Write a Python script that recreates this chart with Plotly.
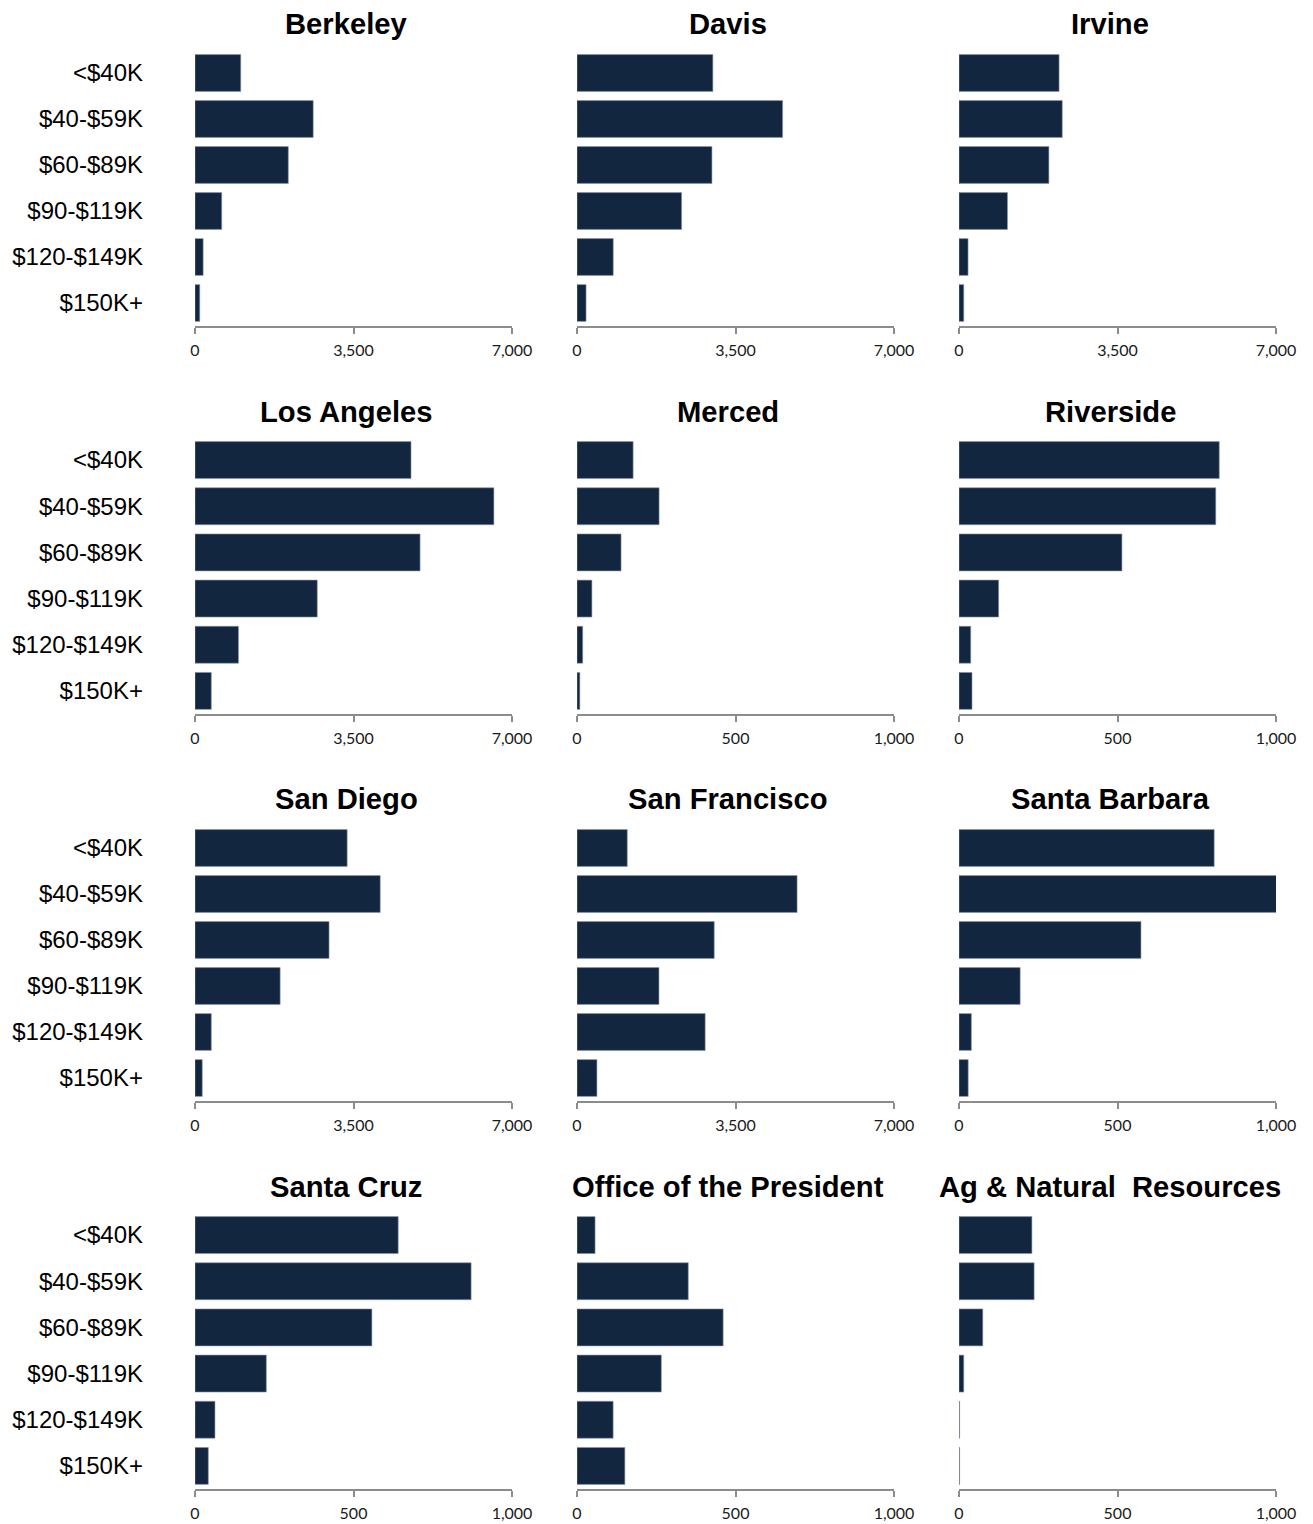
import plotly.graph_objects as go

categories = ["<$40K", "$40-$59K", "$60-$89K", "$90-$119K", "$120-$149K", "$150K+"]

campuses = ["Berkeley", "Davis", "Irvine",
            "Los Angeles", "Merced", "Riverside",
            "San Diego", "San Francisco", "Santa Barbara",
            "Santa Cruz", "Office of the President", "Ag & Natural\u00a0 Resources"]

berkeley = [1010, 2610, 2060, 590, 180, 105]
davis = [3000, 4540, 2980, 2310, 800, 200]
irvine = [2210, 2280, 1985, 1070, 200, 105]
los_angeles = [4770, 6600, 4970, 2700, 960, 360]
merced = [177, 259, 139, 47, 18, 9]
riverside = [821, 810, 514, 125, 37, 41]
san_diego = [3360, 4090, 2960, 1880, 360, 160]
san_francisco = [1110, 4860, 3030, 1810, 2830, 440]
santa_barbara = [805, 1005, 574, 193, 39, 29]
santa_cruz = [641, 871, 558, 225, 63, 42]
office_president = [57, 351, 461, 266, 114, 151]
ag_natural = [230, 237, 75, 15, 2, 2]

series = [berkeley, davis, irvine, los_angeles, merced, riverside,
          san_diego, san_francisco, santa_barbara, santa_cruz, office_president, ag_natural]

axis_max = [7000, 7000, 7000,
            7000, 1000, 1000,
            7000, 7000, 1000,
            1000, 1000, 1000]

W, H = 1313, 1524
col_px = [(195, 512), (577, 894), (959, 1276)]
row_px = [(50, 326), (437, 714), (825, 1101), (1212, 1489)]
title_cx = [346, 728, 1110]
title_cy = [24, 412, 799, 1187]

BAR = "#13263f"
AXC = "#8c8c8c"

fig = go.Figure()
annotations = []
layout_axes = {}

for i, (name, vals, mx) in enumerate(zip(campuses, series, axis_max)):
    r, c = divmod(i, 3)
    n = i + 1
    xa = "x" if n == 1 else f"x{n}"
    ya = "y" if n == 1 else f"y{n}"
    fig.add_trace(go.Bar(
        x=vals, y=categories, orientation="h",
        marker=dict(color=BAR, line=dict(color="#8a96a8", width=0.6)),
        xaxis=xa, yaxis=ya, showlegend=False, hoverinfo="x+y",
    ))
    x0, x1 = col_px[c]
    y0, y1 = row_px[r]
    xkey = "xaxis" if n == 1 else f"xaxis{n}"
    ykey = "yaxis" if n == 1 else f"yaxis{n}"
    layout_axes[xkey] = dict(
        domain=[x0 / W, x1 / W], anchor=ya, range=[0, mx],
        tickvals=[0, mx / 2, mx], tickformat=",",
        showline=True, linecolor=AXC, linewidth=2,
        ticks="outside", ticklen=6, tickcolor=AXC, tickwidth=2,
        showgrid=False, zeroline=False, fixedrange=True, automargin=False,
        tickfont=dict(family="Lato", size=16, color="#1a1a1a"),
        ticklabelstandoff=3,
    )
    layout_axes[ykey] = dict(
        domain=[1 - y1 / H, 1 - y0 / H], anchor=xa,
        autorange="reversed", type="category",
        showline=False, showgrid=False, zeroline=False, ticks="",
        showticklabels=(c == 0), fixedrange=True, automargin=False,
        tickfont=dict(family="Liberation Sans, Arial", size=24, color="#000000"),
        ticklabelstandoff=51,
    )
    annotations.append(dict(
        text=f"<b>{name}</b>", x=title_cx[c] / W, y=1 - title_cy[r] / H,
        xref="paper", yref="paper", xanchor="center", yanchor="middle",
        showarrow=False,
        font=dict(family="Liberation Sans, Arial", size=29.2, color="#000000"),
    ))

fig.update_layout(
    width=W, height=H,
    margin=dict(l=0, r=0, t=0, b=0, autoexpand=False),
    paper_bgcolor="white", plot_bgcolor="white",
    bargap=0.2,
    annotations=annotations,
    **layout_axes,
)

fig.write_html(
    "out.html",
    config={"responsive": False, "displayModeBar": False},
    post_script="document.body.style.margin='0';document.body.style.overflow='hidden';",
)
